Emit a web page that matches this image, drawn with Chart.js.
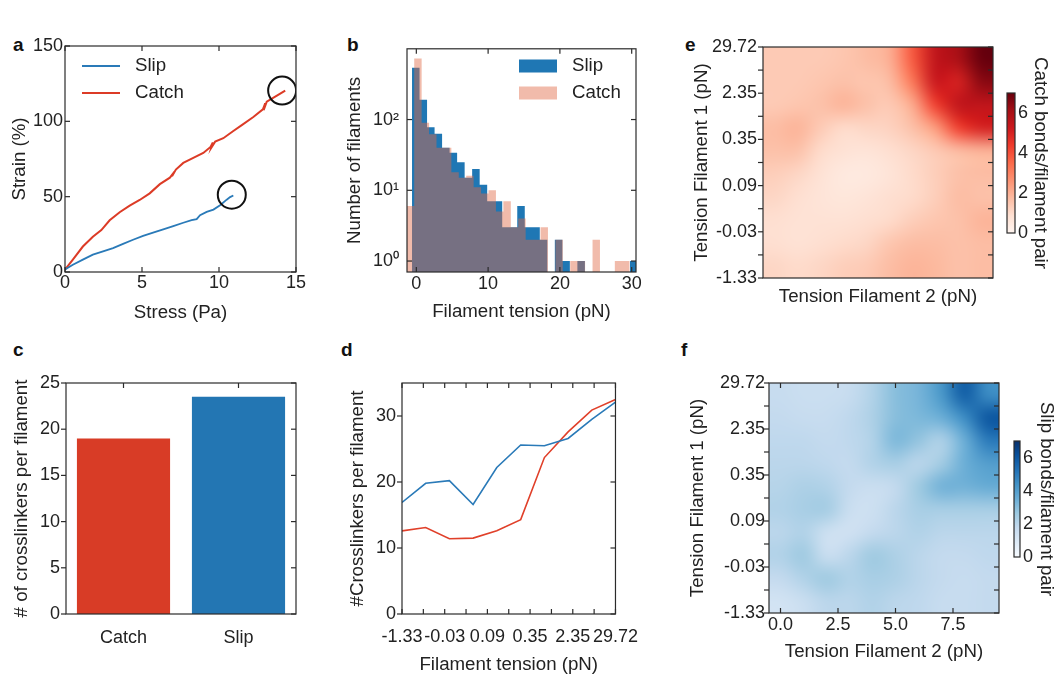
<!DOCTYPE html>
<html>
<head>
<meta charset="utf-8">
<script src="https://cdn.jsdelivr.net/npm/chart.js@4/dist/chart.umd.min.js"></script>
<style>
body{margin:0;width:1056px;height:678px;position:relative;background:#fff;overflow:hidden;font-family:"Liberation Sans",Arial,sans-serif}
canvas{position:absolute}
.lt{position:absolute;font-weight:bold;font-size:19px;line-height:19px;color:#111}
</style>
</head>
<body>
<div class="lt" style="left:13px;top:35px">a</div>
<div class="lt" style="left:347px;top:35px">b</div>
<div class="lt" style="left:13px;top:340px">c</div>
<div class="lt" style="left:341px;top:340px">d</div>
<div class="lt" style="left:685px;top:35px">e</div>
<div class="lt" style="left:681px;top:340px">f</div>

<canvas id="ca" style="left:0;top:30px" width="320" height="300"></canvas>
<canvas id="cb" style="left:330px;top:30px" width="320" height="300"></canvas>
<canvas id="cc" style="left:0;top:350px" width="320" height="320"></canvas>
<canvas id="cd" style="left:330px;top:350px" width="320" height="328"></canvas>
<canvas id="ce" style="left:660px;top:30px" width="340" height="290"></canvas>
<canvas id="cbarE" style="left:1000px;top:30px" width="56" height="290"></canvas>
<canvas id="cf" style="left:660px;top:360px" width="340" height="318"></canvas>
<canvas id="cbarF" style="left:1005px;top:360px" width="51" height="318"></canvas>

<script>
// ---- a: stress / strain
const slipStress = [0, 0.51, 1.16, 1.81, 2.47, 3.12, 3.77, 4.42, 5.07, 5.72, 6.38, 7.03, 7.68, 8.22, 8.55, 8.77, 9.2, 9.64, 10.07, 10.5, 10.72, 10.93];
const slipStrain = [1.6, 4.8, 8.2, 11.5, 13.7, 15.9, 18.7, 21.4, 24.0, 26.2, 28.3, 30.5, 32.7, 34.4, 35.1, 37.7, 39.9, 41.4, 44.3, 48.0, 49.7, 50.8];
const catchStress = [0, 0.51, 1.16, 1.81, 2.36, 2.9, 3.55, 4.2, 4.85, 5.5, 6.16, 6.81, 7.1, 6.95, 7.2, 7.68, 8.33, 8.98, 9.45, 9.6, 9.5, 9.75, 10.28, 10.93, 11.48, 12.23, 12.85, 13.0, 12.9, 13.1, 13.76, 14.3];
const catchStrain = [1.6, 8.2, 16.9, 23.4, 27.8, 34.3, 39.7, 44.1, 47.8, 52.2, 58.3, 62.6, 66.5, 63.5, 68.0, 72.4, 75.7, 79.0, 83.0, 86.0, 82.5, 86.5, 88.8, 93.6, 97.5, 102.9, 108.0, 112.0, 107.5, 113.0, 117.1, 120.4];
const endStress = [10.83, 14.1];
const endStrain = [51.3, 120.4];

// ---- b: histograms (counts per bin)
const slipBinStart = -0.6, slipBinWidth = 1.047;
const slipCounts = [540, 190, 78, 63, 40, 34, 25, 15, 20, 12, 7, 7, 3, 3, 6, 3, 3, 2, 0, 2, 1, 0, 1, 0, 0, 0, 0, 0, 0, 1];
const catchBinStart = -1.33, catchBinWidth = 1.035;
const catchCounts = [6, 730, 90, 62, 40, 40, 18, 15, 16, 11, 9, 10, 5, 7, 3, 4, 2, 2, 3, 0, 2, 0, 1, 1, 0, 2, 0, 0, 1, 1];

// ---- c: bars
const bondTypes = ['Catch', 'Slip'];
const linkersPerFilament = [19.0, 23.5];

// ---- d: crosslinkers vs tension
const tensionTicks = [0, 1, 2, 3, 4, 5, 6, 7, 8, 9, 10];
const tensionLabels = ['-1.33', '-0.03', '0.09', '0.35', '2.35', '29.72'];
const tensionPos = [0, 1.11, 2.22, 3.33, 4.44, 5.56, 6.67, 7.78, 8.89, 10];
const slipLinkers = [16.9, 19.8, 20.2, 16.6, 22.2, 25.6, 25.5, 26.6, 29.5, 32.1];
const catchLinkers = [12.6, 13.1, 11.4, 11.5, 12.6, 14.3, 23.7, 27.6, 30.9, 32.5];

// ---- e/f: bonds per filament pair (rows listed top -> bottom)
const catchPairs = [
  [1.4, 1.4, 1.4, 1.5, 1.7, 2.0, 3.8, 5.5, 6.0, 7.0],
  [1.4, 1.4, 1.5, 1.6, 1.5, 1.7, 3.2, 5.3, 5.0, 6.5],
  [1.4, 1.5, 1.6, 1.9, 1.6, 1.4, 2.1, 4.3, 5.5, 5.5],
  [1.7, 1.9, 1.4, 1.0, 1.1, 1.2, 1.6, 2.4, 4.3, 5.0],
  [1.6, 1.6, 1.0, 0.8, 0.7, 0.9, 1.1, 1.4, 1.7, 1.9],
  [1.3, 1.1, 0.8, 0.5, 0.5, 0.7, 1.0, 1.3, 1.6, 1.7],
  [1.1, 0.9, 0.7, 0.6, 0.7, 0.9, 1.0, 1.3, 1.7, 1.6],
  [0.9, 0.8, 0.8, 0.8, 0.9, 1.0, 1.3, 1.5, 1.6, 1.9],
  [0.9, 0.8, 0.9, 1.0, 1.1, 1.5, 1.7, 1.7, 1.6, 1.7],
  [1.1, 1.0, 1.1, 1.3, 1.4, 1.7, 1.9, 1.8, 1.6, 1.7]
];
const slipPairs = [
  [1.7, 1.6, 1.6, 1.7, 2.2, 3.0, 3.3, 4.2, 5.8, 4.5],
  [1.8, 1.7, 1.7, 1.9, 2.3, 3.0, 3.2, 3.5, 4.5, 6.0],
  [1.9, 1.9, 1.8, 1.9, 2.2, 3.2, 2.8, 2.2, 3.5, 5.0],
  [2.0, 2.0, 1.9, 1.8, 2.2, 2.4, 2.0, 2.5, 3.5, 4.0],
  [2.1, 2.3, 2.2, 1.8, 1.6, 1.8, 2.6, 3.4, 3.4, 3.6],
  [2.2, 2.4, 2.5, 1.6, 1.5, 2.0, 2.4, 2.4, 2.4, 2.4],
  [2.0, 2.2, 1.5, 1.4, 1.8, 2.0, 2.2, 2.0, 2.0, 2.0],
  [2.2, 2.6, 1.6, 2.0, 2.6, 2.3, 2.0, 1.8, 1.8, 1.9],
  [1.8, 2.2, 2.6, 2.2, 2.4, 2.3, 2.0, 1.8, 1.7, 1.8],
  [1.3, 1.6, 2.0, 2.0, 2.2, 2.0, 1.9, 1.7, 1.7, 1.8]
];
const filament2Ticks = [0, 2.5, 5, 7.5];
const colorTicks = [0, 2, 4, 6];
const colorMax = 7;

const CMAPS = {
  reds: [[255,245,240],[254,224,210],[252,187,161],[252,146,114],[251,106,74],[239,59,44],[203,24,29],[165,15,21],[103,0,13]],
  blues: [[247,251,255],[222,235,247],[198,219,239],[158,202,225],[107,174,214],[66,146,198],[33,113,181],[8,81,156],[8,48,107]]
};
function cmap(name, t) {
  const s = CMAPS[name];
  t = Math.max(0, Math.min(1, t));
  const n = s.length - 1, f = t * n, i = Math.min(n - 1, Math.floor(f)), u = f - i;
  return s[i].map((c, k) => Math.round(c + (s[i + 1][k] - c) * u));
}

Chart.defaults.font.family = '"Liberation Sans", Arial, sans-serif';
Chart.defaults.font.size = 18;
Chart.defaults.color = '#222';
Chart.defaults.animation = false;
Chart.defaults.responsive = false;
Chart.defaults.devicePixelRatio = 1;
Chart.defaults.events = [];
Chart.defaults.plugins.legend.display = false;
Chart.defaults.plugins.tooltip.enabled = false;
Chart.defaults.elements.point.radius = 0;
Chart.defaults.elements.line.tension = 0;

// box + inward/outward ticks
const frame = {
  id: 'frame',
  afterDatasetsDraw(chart, args, o) {
    if (!o.box) return;
    const {ctx, chartArea: a} = chart;
    const L = 5;
    ctx.save();
    ctx.strokeStyle = '#2b2b2b';
    ctx.lineWidth = 1.2;
    ctx.strokeRect(a.left, a.top, a.right - a.left, a.bottom - a.top);
    const seg = (x1, y1, x2, y2) => { ctx.beginPath(); ctx.moveTo(x1, y1); ctx.lineTo(x2, y2); ctx.stroke(); };
    const px = s => s.ticks.map((t, i) => s.getPixelForTick(i));
    const xs = chart.scales.x, ys = chart.scales.y;
    if (o.bottom) px(xs).forEach(p => seg(p, a.bottom, p, a.bottom + (o.bottom === 'out' ? L : -L)));
    if (o.top) px(xs).forEach(p => seg(p, a.top, p, a.top + (o.top === 'out' ? -L : L)));
    if (o.left) px(ys).forEach(p => seg(a.left, p, a.left + (o.left === 'out' ? -L : L), p));
    if (o.right) px(ys).forEach(p => seg(a.right, p, a.right + (o.right === 'out' ? L : -L), p));
    ctx.restore();
  }
};

// legend inside the plot
const inLegend = {
  id: 'inLegend',
  afterDatasetsDraw(chart, args, o) {
    if (!o.items) return;
    const ctx = chart.ctx;
    ctx.save();
    ctx.font = '18.7px "Liberation Sans", Arial, sans-serif';
    ctx.textBaseline = 'middle';
    o.items.forEach((idx, k) => {
      const ds = chart.data.datasets[idx];
      const y = o.y + k * o.dy;
      if (o.kind === 'box') {
        ctx.fillStyle = ds.backgroundColor;
        ctx.fillRect(o.x, y - o.h / 2, o.w, o.h);
      } else {
        ctx.strokeStyle = ds.borderColor;
        ctx.lineWidth = ds.borderWidth;
        ctx.beginPath(); ctx.moveTo(o.x, y); ctx.lineTo(o.x + o.w, y); ctx.stroke();
      }
      ctx.fillStyle = '#222';
      ctx.fillText(ds.label, o.tx, y);
    });
    ctx.restore();
  }
};

// smooth heat map painted from the dataset cells
const heat = {
  id: 'heat',
  beforeDatasetsDraw(chart, args, o) {
    if (!o.cmap) return;
    const pts = chart.data.datasets[0].data;
    const cols = o.cols, rows = o.rows;
    const off = document.createElement('canvas');
    off.width = cols + 2; off.height = rows + 2;
    const octx = off.getContext('2d');
    const img = octx.createImageData(cols + 2, rows + 2);
    const put = (c, r, rgb) => {
      const i = (r * (cols + 2) + c) * 4;
      img.data[i] = rgb[0]; img.data[i + 1] = rgb[1]; img.data[i + 2] = rgb[2]; img.data[i + 3] = 255;
    };
    const grid = [];
    pts.forEach(p => {
      const r = rows - 1 - Math.floor(p.y);
      (grid[r] = grid[r] || [])[p.x] = cmap(o.cmap, p.v / o.vmax);
    });
    for (let r = -1; r <= rows; r++) {
      for (let c = -1; c <= cols; c++) {
        const rr = Math.max(0, Math.min(rows - 1, r)), cc = Math.max(0, Math.min(cols - 1, c));
        put(c + 1, r + 1, grid[rr][cc]);
      }
    }
    octx.putImageData(img, 0, 0);
    const xs = chart.scales.x, ys = chart.scales.y;
    const x0 = xs.getPixelForValue(-0.5), x1 = xs.getPixelForValue(cols - 0.5);
    const y0 = ys.getPixelForValue(rows), y1 = ys.getPixelForValue(0);
    const ctx = chart.ctx;
    ctx.save();
    ctx.imageSmoothingEnabled = true;
    ctx.imageSmoothingQuality = 'high';
    ctx.drawImage(off, 1, 1, cols, rows, x0, y0, x1 - x0, y1 - y0);
    ctx.restore();
  }
};

function ax(p) {
  const s = {
    type: p.type || 'linear',
    position: p.position,
    min: p.min, max: p.max,
    offset: p.offset || false,
    display: p.display !== false,
    grid: {display: false, drawTicks: false},
    border: {display: false},
    ticks: {display: p.showTicks !== false, padding: p.tickPad || 0, autoSkip: false, maxRotation: 0, minRotation: 0},
    title: p.title ? {display: true, text: p.title, font: {size: 18.7}, padding: {top: p.titlePad, bottom: p.titlePad}} : {display: false},
    afterFit: sc => { if (sc.isHorizontal()) sc.height = p.size; else sc.width = p.size; }
  };
  if (p.fmt) s.ticks.callback = p.fmt;
  if (p.at) s.afterBuildTicks = sc => { sc.ticks = p.at.map(v => ({value: v})); };
  return s;
}

function make(id, type, data, scales, plug) {
  return new Chart(document.getElementById(id), {
    type, data,
    options: {
      layout: {padding: plug.pad},
      scales,
      plugins: {frame: plug.frame || {}, inLegend: plug.legend || {}, heat: plug.heat || {}}
    },
    plugins: [heat, frame, inLegend]
  });
}

const pairs = (xs, ys) => xs.map((x, i) => ({x, y: ys[i]}));
const steps = (start, w, counts) => {
  const pts = counts.map((c, k) => ({x: start + k * w, y: c > 0 ? c : 0.01}));
  pts.push({x: start + counts.length * w, y: pts[pts.length - 1].y});
  return pts;
};
const tensionFmt = v => (v % 2 === 0 ? tensionLabels[v / 2] : '');
const cells = grid => {
  const out = [];
  grid.forEach((row, i) => row.forEach((v, c) => out.push({x: c, y: grid.length - 1 - i + 0.5, v})));
  return out;
};
const gradient = name => c => {
  const a = c.chart.chartArea;
  if (!a) return 'transparent';
  const g = c.chart.ctx.createLinearGradient(0, a.bottom, 0, a.top);
  CMAPS[name].forEach((s, k, arr) => g.addColorStop(k / (arr.length - 1), 'rgb(' + s.join(',') + ')'));
  return g;
};

// a
make('ca', 'line', {
  datasets: [
    {label: 'ends', data: pairs(endStress, endStrain), showLine: false, pointRadius: 14, pointBorderWidth: 2,
     pointBorderColor: '#111', pointBackgroundColor: 'rgba(0,0,0,0)'},
    {label: 'Slip', data: pairs(slipStress, slipStrain), borderColor: '#2a7ab8', borderWidth: 1.8},
    {label: 'Catch', data: pairs(catchStress, catchStrain), borderColor: '#dc3b26', borderWidth: 2}
  ]
}, {
  x: ax({min: 0, max: 15, at: [0, 5, 10, 15], size: 58, tickPad: 0, title: 'Stress (Pa)', titlePad: 6}),
  y: ax({min: 0, max: 150, at: [0, 50, 100, 150], size: 65, tickPad: 2, title: 'Strain (%)', titlePad: 9})
}, {
  pad: {left: 0, top: 13, right: 24, bottom: 0},
  frame: {box: true, left: 'in', right: 'in', top: 'in', bottom: 'in'},
  legend: {items: [1, 2], kind: 'line', x: 82, w: 38, tx: 135, y: 36, dy: 27}
});

// b
make('cb', 'line', {
  datasets: [
    {label: 'Catch', data: steps(catchBinStart, catchBinWidth, catchCounts), stepped: true, borderWidth: 0,
     backgroundColor: 'rgba(224,104,68,0.45)', fill: 'start', order: 0},
    {label: 'Slip', data: steps(slipBinStart, slipBinWidth, slipCounts), stepped: true, borderWidth: 0,
     backgroundColor: '#1f77b4', fill: 'start', order: 1}
  ]
}, {
  x: ax({min: -1.3, max: 30.6, at: [0, 10, 20, 30], size: 58, tickPad: 1, title: 'Filament tension (pN)', titlePad: 7}),
  y: ax({type: 'logarithmic', min: 0.71, max: 1000, at: [1, 10, 100], fmt: v => ({1: '10⁰', 10: '10¹', 100: '10²'})[v],
         size: 77, tickPad: 8, title: 'Number of filaments', titlePad: 14})
}, {
  pad: {left: 0, top: 13, right: 14, bottom: 0},
  frame: {box: true, left: 'in', right: 'in', top: 'in', bottom: 'in'},
  legend: {items: [1, 0], kind: 'box', x: 189, w: 38, h: 13, tx: 242, y: 36, dy: 27}
});

// c
make('cc', 'bar', {
  labels: bondTypes,
  datasets: [{data: linkersPerFilament, backgroundColor: ['#d83c26', '#2376b3'], barPercentage: 0.81, categoryPercentage: 1}]
}, {
  x: ax({type: 'category', offset: true, size: 56, tickPad: 13}),
  y: ax({min: 0, max: 25, at: [0, 5, 10, 15, 20, 25], size: 66, tickPad: 6, title: '# of crosslinkers per filament', titlePad: 11})
}, {
  pad: {left: 0, top: 33, right: 24, bottom: 0},
  frame: {box: true, left: 'out', right: 'in', top: 'in'}
});

// d
make('cd', 'line', {
  datasets: [
    {label: 'Slip', data: pairs(tensionPos, slipLinkers), borderColor: '#2a7ab8', borderWidth: 1.6},
    {label: 'Catch', data: pairs(tensionPos, catchLinkers), borderColor: '#e0402a', borderWidth: 1.6}
  ]
}, {
  x: ax({min: 0, max: 10, at: tensionTicks, fmt: tensionFmt, size: 64, tickPad: 12, title: 'Filament tension (pN)', titlePad: 2}),
  y: ax({min: 0, max: 35, at: [0, 10, 20, 30], size: 72, tickPad: 6, title: '#Crosslinkers per filament', titlePad: 17})
}, {
  pad: {left: 0, top: 33, right: 27, bottom: 0},
  frame: {box: true, left: 'out', right: 'in', top: 'in', bottom: 'in'}
});

// e
make('ce', 'scatter', {datasets: [{data: cells(catchPairs), pointRadius: 0}]}, {
  x: ax({min: -0.5, max: 9.5, size: 42, showTicks: false, title: 'Tension Filament 2 (pN)', titlePad: 12}),
  y: ax({min: 0, max: 10, at: tensionTicks, fmt: tensionFmt, size: 103, tickPad: 6, title: 'Tension Filament 1 (pN)', titlePad: 31})
}, {
  pad: {left: 0, top: 17, right: 7, bottom: 0},
  frame: {box: true, left: 'out', right: 'in'},
  heat: {cmap: 'reds', cols: 10, rows: 10, vmax: colorMax}
});

make('cbarE', 'bar', {
  labels: [''],
  datasets: [{data: [[0, colorMax]], backgroundColor: gradient('reds'), barPercentage: 1, categoryPercentage: 1, borderWidth: 0}]
}, {
  x: {type: 'category', display: false},
  y: ax({position: 'right', min: 0, max: colorMax, at: colorTicks, size: 41, tickPad: 3, title: 'Catch bonds/filament pair', titlePad: 5})
}, {
  pad: {left: 7, top: 63, right: 0, bottom: 87},
  frame: {box: true}
});

// f
make('cf', 'scatter', {datasets: [{data: cells(slipPairs), pointRadius: 0}]}, {
  x: ax({min: -0.5, max: 9.5, at: filament2Ticks, fmt: v => v.toFixed(1), size: 65, tickPad: 1, title: 'Tension Filament 2 (pN)', titlePad: 15}),
  y: ax({min: 0, max: 10, at: tensionTicks, fmt: tensionFmt, size: 109, tickPad: 4, title: 'Tension Filament 1 (pN)', titlePad: 27})
}, {
  pad: {left: 0, top: 23, right: 1, bottom: 0},
  frame: {box: true, left: 'out', right: 'in', top: 'in', bottom: 'in'},
  heat: {cmap: 'blues', cols: 10, rows: 10, vmax: colorMax}
});

make('cbarF', 'bar', {
  labels: [''],
  datasets: [{data: [[0, colorMax]], backgroundColor: gradient('blues'), barPercentage: 1, categoryPercentage: 1, borderWidth: 0}]
}, {
  x: {type: 'category', display: false},
  y: ax({position: 'right', min: 0, max: colorMax, at: colorTicks, size: 36, tickPad: 3, title: 'Slip bonds/filament pair', titlePad: -1})
}, {
  pad: {left: 9, top: 81, right: 0, bottom: 121},
  frame: {box: true}
});
</script>
</body>
</html>
